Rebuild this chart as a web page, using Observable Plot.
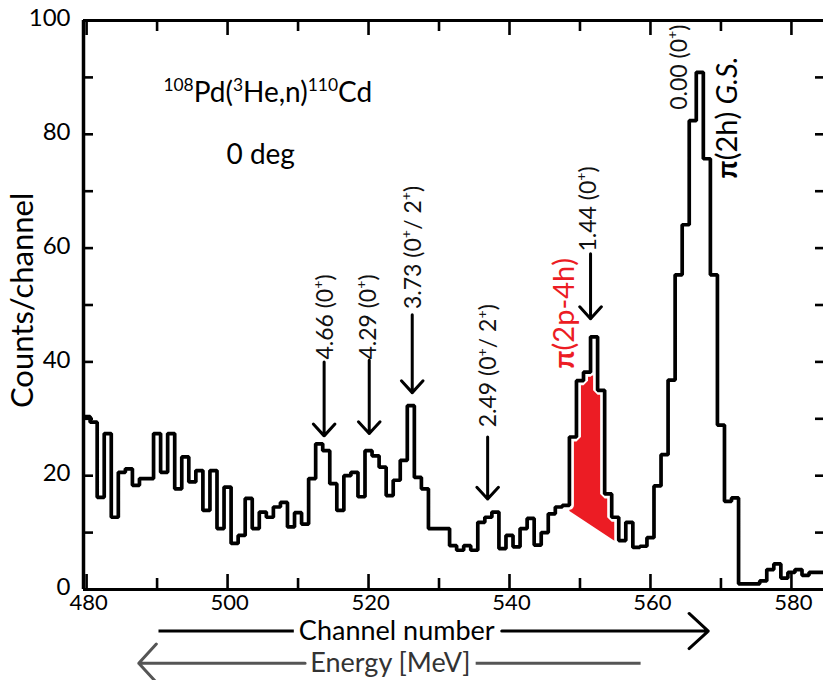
<!DOCTYPE html>
<html>
<head>
<meta charset="utf-8">
<script src="https://cdn.jsdelivr.net/npm/d3@7"></script>
<script src="https://cdn.jsdelivr.net/npm/@observablehq/plot@0.6"></script>
<style>
  html, body { margin: 0; padding: 0; background: #fff; }
  svg { display: block; }
</style>
</head>
<body>
<div id="chart"></div>
<script>
// ---------------- data ----------------
const firstChannel = 480;
const counts = [
  30.4, 29.4, 16.2, 27.4, 12.7, 20.6, 21.2, 18.3, 19.5, 19.5, // 480-489
  27.4, 20.6, 27.4, 17.7, 23.3, 18.9, 20.9, 13.9, 20.9, 10.7, // 490-499
  18.0,  8.1,  9.5, 16.0, 10.7, 13.6, 12.7, 14.5, 15.3, 11.0, // 500-509
  13.5, 11.5, 19.5, 25.6, 24.4, 18.6, 13.9, 20.0, 20.6, 16.3, // 510-519
  24.4, 23.5, 21.5, 16.5, 19.2, 22.7, 32.3, 19.7, 17.7, 10.7, // 520-529
  10.7, 10.7,  7.7,  6.9,  7.7,  6.9, 11.8, 12.7, 13.6,  7.2, // 530-539
   9.5,  7.5, 10.7, 12.5,  7.8, 10.0, 13.3, 14.5, 14.8, 26.8, // 540-549
  36.7, 38.2, 44.4, 35.0, 16.8, 12.7,  8.6, 11.8,  7.4,  7.6, // 550-559
   9.1, 18.2, 23.7, 36.8, 55.3, 64.1, 82.4, 90.9, 75.7, 55.3, // 560-569
  28.9, 15.5, 16.1,  1.0,  1.0,  1.0,  1.5,  3.5,  4.5,  2.0, // 570-579
   3.0,  3.5,  2.5,  3.0,  3.0                                // 580-584
];

// red pi(2p-4h) component: channels and top values, plus the straight background under it
const redChannels = [549, 550, 551, 552, 553, 554, 555];
const redTop      = [26.8, 36.7, 38.2, 37.6, 35.0, 16.8, 12.7];
const redBackground = [{ch: 548.5, v: 13.8}, {ch: 555.1, v: 8.4}];

const xDomain = [479.56, 584.55];
const yDomain = [0, 100];
const xTicksMajor = [480, 500, 520, 540, 560, 580];
const xTicksMinor = [490, 510, 530, 550, 570];
const yTicksLabeled = [0, 20, 40, 60, 80, 100];
const yTicksAll = [0, 10, 20, 30, 40, 50, 60, 70, 80, 90, 100];

const peakLabels = [
  {ch: 513.9, v: 40.4, text: "4.66 (0<sup>+</sup>)"},
  {ch: 520.0, v: 40.4, text: "4.29 (0<sup>+</sup>)"},
  {ch: 526.4, v: 49.3, text: "3.73 (0<sup>+</sup>/ 2<sup>+</sup>)"},
  {ch: 537.1, v: 28.5, text: "2.49 (0<sup>+</sup>/ 2<sup>+</sup>)"},
  {ch: 551.2, v: 59.4, text: "1.44 (0<sup>+</sup>)"},
  {ch: 564.1, v: 84.3, text: "0.00 (0<sup>+</sup>)"}
];
const peakArrows = [
  {ch: 513.7, from: 40.0, to: 27.0},
  {ch: 520.1, from: 40.3, to: 27.4},
  {ch: 526.2, from: 48.3, to: 34.6},
  {ch: 536.9, from: 26.8, to: 15.9},
  {ch: 551.5, from: 59.0, to: 47.6}
];
const configLabels = [
  {ch: 547.8, v: 38.8, text: "<b>π</b>(2p-4h)", color: "#ec1c24"},
  {ch: 571.0, v: 72.2, text: "<b>π</b>(2h) <i>G.S.</i>", color: "#000"}
];
const reactionTitle = [{ch: 490.9, v: 87.2, text: "<sup>108</sup>Pd(<sup>3</sup>He,n)<sup>110</sup>Cd"}];
const angleLabel = [{ch: 504.7, v: 76.4, text: "0 deg"}];

const yAxisTitle = [{v: 50.8, text: "Counts/channel"}];
const channelTitle = [{ch: 524.0, v: -7.3, text: "Channel number"}];
const energyTitle = [{ch: 523.1, v: -12.95, text: "Energy [MeV]"}];
const channelLines = [{x1: 490.2, x2: 509.4, v: -7.3}];
const channelArrows = [{x1: 538.9, x2: 568.2, v: -7.3}];
const energyLines = [{x1: 535.2, x2: 558.6, v: -12.95}];
const energyArrows = [{x1: 511.0, x2: 487.4, v: -12.95}];

// ---------------- geometry ----------------
const W = 823, H = 680;
const mTop = 20, mBottom = 91, mLeft = 83, mRight = 0;
const plotW = W - mLeft - mRight, plotH = H - mTop - mBottom;

const steps = [];
counts.forEach((v, i) => {
  const c = firstChannel + i;
  steps.push({ch: c - 0.5, v}, {ch: c + 0.5, v});
});
const haloSteps = steps.filter(d => d.ch >= redBackground[0].ch && d.ch <= redBackground[1].ch + 0.5);

const redPoly = [redBackground[0]];
redChannels.forEach((c, i) => {
  const left = Math.max(c - 0.5, redBackground[0].ch);
  const right = Math.min(c + 0.5, redBackground[1].ch);
  redPoly.push({ch: left, v: redTop[i]}, {ch: right, v: redTop[i]});
});
redPoly.push(redBackground[1]);

const svg = Plot.plot({
  width: W,
  height: H,
  marginTop: mTop,
  marginBottom: mBottom,
  marginLeft: mLeft,
  marginRight: mRight,
  style: {fontFamily: "Lato, sans-serif", fontSize: "24px", color: "#000", background: "#fff"},
  x: {domain: xDomain, label: null},
  y: {domain: yDomain, label: null},
  marks: [
    // red component
    Plot.line(redPoly, {x: "ch", y: "v", fill: "#ec1c24", stroke: "none", curve: "linear"}),
    Plot.line(haloSteps, {x: "ch", y: "v", stroke: "#fff", strokeWidth: 9, strokeLinejoin: "miter"}),
    // histogram
    Plot.line(steps, {x: "ch", y: "v", stroke: "#000", strokeWidth: 3.7, strokeLinejoin: "miter", clip: true}),
    // frame lines
    Plot.ruleX([xDomain[0]], {stroke: "#000", strokeWidth: 3.5}),
    Plot.ruleY([0, 100], {stroke: "#000", strokeWidth: 3.2}),
    // ticks
    Plot.ruleX(xTicksMajor, {stroke: "#000", strokeWidth: 2.6, insetTop: plotH - 15}),
    Plot.ruleX(xTicksMinor, {stroke: "#000", strokeWidth: 2.6, insetTop: plotH - 11}),
    Plot.ruleX(xTicksMajor, {stroke: "#000", strokeWidth: 2.6, insetBottom: plotH - 15}),
    Plot.ruleX(xTicksMinor, {stroke: "#000", strokeWidth: 2.6, insetBottom: plotH - 11}),
    Plot.ruleY(yTicksAll, {stroke: "#000", strokeWidth: 2.6, insetRight: plotW - 10}),
    Plot.ruleY(yTicksAll, {stroke: "#000", strokeWidth: 2.6, insetLeft: plotW - 8}),
    // tick labels
    Plot.axisX({ticks: xTicksMajor, tickSize: 0, tickPadding: 5, fontSize: 22, dx: 2, label: null}),
    Plot.axisY({ticks: yTicksLabeled, tickSize: 0, tickPadding: 13, fontSize: 24, dy: -2, label: null}),
    // y axis title
    Plot.text(yAxisTitle, {frameAnchor: "left", y: "v", text: "text", textAnchor: "middle", dx: -60, rotate: -90, fontSize: 31, fill: "#000"}),
    // bottom arrows + titles
    Plot.link(channelLines, {x1: "x1", x2: "x2", y1: "v", y2: "v", stroke: "#000", strokeWidth: 3}),
    Plot.arrow(channelArrows, {x1: "x1", x2: "x2", y1: "v", y2: "v", stroke: "#000", strokeWidth: 3, headLength: 13, headAngle: 85}),
    Plot.text(channelTitle, {x: "ch", y: "v", text: "text", fontSize: 27, fill: "#000"}),
    Plot.link(energyLines, {x1: "x1", x2: "x2", y1: "v", y2: "v", stroke: "#555", strokeWidth: 3}),
    Plot.arrow(energyArrows, {x1: "x1", x2: "x2", y1: "v", y2: "v", stroke: "#555", strokeWidth: 3, headLength: 13, headAngle: 95}),
    Plot.text(energyTitle, {x: "ch", y: "v", text: "text", fontSize: 27, fill: "#333"}),
    // peak arrows and labels
    Plot.arrow(peakArrows, {x1: "ch", x2: "ch", y1: "from", y2: "to", stroke: "#000", strokeWidth: 3, headLength: 8, headAngle: 85}),
    Plot.text(peakLabels, {x: "ch", y: "v", text: "text", rotate: -90, textAnchor: "start", fontSize: 23, fill: "#111"}),
    Plot.text(configLabels, {x: "ch", y: "v", text: "text", rotate: -90, textAnchor: "start", fontSize: 29, fill: "color"}),
    // reaction title
    Plot.text(reactionTitle, {x: "ch", y: "v", text: "text", textAnchor: "start", fontSize: 28, fill: "#000"}),
    Plot.text(angleLabel, {x: "ch", y: "v", text: "text", fontSize: 28, fill: "#000"})
  ]
});

document.getElementById("chart").append(svg);

// turn simple <sup>/<b>/<i> markup in label strings into SVG tspans
function applyMarkup(root) {
  const re = /<(sup|b|i)>(.*?)<\/\1>|([^<]+)/g;
  root.querySelectorAll("text").forEach(el => {
    const s = el.textContent;
    if (!s.includes("<")) return;
    const fs = parseFloat(getComputedStyle(el).fontSize) || 24;
    const shift = 0.42 * fs;
    el.textContent = "";
    let raised = false;
    let m;
    re.lastIndex = 0;
    while ((m = re.exec(s)) !== null) {
      const t = document.createElementNS("http://www.w3.org/2000/svg", "tspan");
      if (m[1] === "sup") {
        t.textContent = m[2];
        t.setAttribute("font-size", (0.62 * fs).toFixed(1));
        if (!raised) { t.setAttribute("dy", (-shift).toFixed(1)); raised = true; }
      } else {
        t.textContent = m[1] ? m[2] : m[3];
        if (m[1] === "b") t.setAttribute("font-weight", "bold");
        if (m[1] === "i") t.setAttribute("font-style", "italic");
        if (raised) { t.setAttribute("dy", shift.toFixed(1)); raised = false; }
      }
      el.appendChild(t);
    }
  });
}
applyMarkup(svg);
</script>
</body>
</html>
